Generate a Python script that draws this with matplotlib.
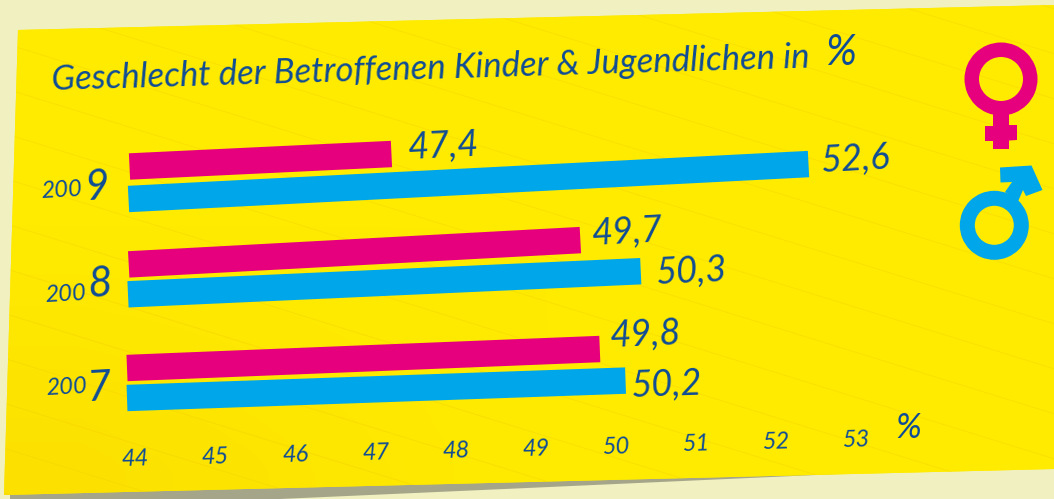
import numpy as np
import matplotlib
matplotlib.use("Agg")
import matplotlib.pyplot as plt
from matplotlib.patches import Polygon, Wedge
from matplotlib.transforms import Affine2D
from matplotlib.colors import LinearSegmentedColormap

# ---- data ----
years = [2009, 2008, 2007]
# printed labels
female_labels = ["47,4", "49,7", "49,8"]
male_labels = ["52,6", "50,3", "50,2"]
# bar ends as drawn in the reference, read against its 44-53 axis
female_drawn = [47.27, 49.64, 49.90]
male_drawn = [52.49, 50.40, 50.22]
axis_ticks = [44, 45, 46, 47, 48, 49, 50, 51, 52, 53]
title = "Geschlecht der Betroffenen Kinder & Jugendlichen in"

# ---- style / layout ----
W, H = 1054, 499
BG, PINK, BLUE, INK = "#F0F0C0", "#E6007E", "#00A6EA", "#0F4C96"
FONT = dict(family="Lato", style="italic", weight="normal")
PX_PER_UNIT = 80.2
female_center = [166.5, 264.4, 368.0]
male_center = [199.0, 294.3, 398.0]
female_left = [129.5, 128.7, 127.0]
male_left = [128.5, 128.0, 127.0]
female_tilt = [2.73, 3.08, 2.30]
male_tilt = [2.94, 2.58, 2.00]
female_nudge = [(51, 7), (46, 8), (45, 14)]
male_nudge = [(47, 4), (50, -1), (41, -4.5)]

fig = plt.figure(figsize=(W / 100, H / 100), dpi=100, facecolor=BG)
ax = fig.add_axes([0, 0, 1, 1])
ax.set_facecolor(BG)
ax.axis("off")
xlim = (44 - 129 / PX_PER_UNIT, 44 + (W - 129) / PX_PER_UNIT)
ax.set_xlim(*xlim)
ax.set_ylim(H, 0)
ax.set_autoscale_on(False)

px = Affine2D().scale(1, -1).translate(0, H)  # reference pixels -> display


def tilted(left, center, angle):
    """Data transform for one bar: shift to its start, tilt about it."""
    return ax.transData + Affine2D().translate(left - 129, 0).rotate_deg_around(left, H - center, angle)


# shadow and paper
ax.add_patch(Polygon([(10, 490), (860, 470), (860, 473), (527, 488), (10, 511)],
                     closed=True, fc="#A5A58A", ec="none", transform=px, zorder=1))
paper_pts = [(18, 30), (1054, 5), (1054, 469), (4, 495)]
paper = Polygon(paper_pts, closed=True, fc="#FFEB00", ec="none", transform=px, zorder=2)
ax.add_patch(paper)
cmap = LinearSegmentedColormap.from_list("paper", ["#FFEB00", "#FCE100"])
gx, gy = np.meshgrid(np.linspace(0, 1, 60), np.linspace(0, 1, 30))
shade = np.clip((gy - 0.45) / 0.5, 0, 1) * np.clip(1.15 - gx * 2.2, 0, 1)
im = ax.imshow(shade, cmap=cmap, vmin=0, vmax=1, extent=(0, W, H, 0), origin="upper",
               transform=px, aspect="auto", zorder=2.1, interpolation="bilinear")
im.set_clip_path(paper)
ax.set_xlim(*xlim)
ax.set_ylim(H, 0)

# faint ruled lines
for k in range(-8, 11):
    y0 = 48 + 45 * k
    ln, = ax.plot([0, W], [y0 - 6, y0 - 6 + 0.31 * W], color="#EDC400", lw=0.6, alpha=0.3,
                  transform=px, zorder=2.2)
    ln.set_clip_path(paper)

# bars
for i, year in enumerate(years):
    for lab, v, yy, xl, col, nudge, tilt in (
            (female_labels[i], female_drawn[i], female_center[i], female_left[i], PINK, female_nudge[i], female_tilt[i]),
            (male_labels[i], male_drawn[i], male_center[i], male_left[i], BLUE, male_nudge[i], male_tilt[i])):
        t = tilted(xl, yy, tilt)
        ax.barh(yy, v - 44, left=44, height=26.4, color=col, transform=t, zorder=3)
        ax.annotate(lab, xy=(v, yy), xycoords=t, xytext=nudge, textcoords="offset pixels",
                    ha="center", va="center", color=INK, fontsize=26, rotation=tilt,
                    zorder=4, **FONT)

# year labels: small "200" and a large last digit
year_small = [(62, 190), (66, 294), (67, 387)]
year_big = [(97, 187), (100, 284), (99, 388)]
for year, (sx, sy), (bx, by) in zip(years, year_small, year_big):
    ax.text(sx, sy, str(year)[:3], transform=px, ha="center", va="center", color=INK,
            fontsize=17, rotation=3, zorder=4, **FONT)
    ax.text(bx, by, str(year)[3], transform=px, ha="center", va="center", color=INK,
            fontsize=30, rotation=3, zorder=4, **FONT)

# axis tick labels along their own, flatter line
tick_t = ax.transData + Affine2D().translate(6, 0).rotate_deg_around(129, H - 459, 1.45)
for v in axis_ticks:
    ax.annotate(str(v), xy=(v, 459), xycoords=tick_t, ha="center", va="center", color=INK,
                fontsize=17, rotation=1.5, zorder=4, **FONT)
ax.text(908, 428, "%", transform=px, ha="center", va="center", color=INK, fontsize=25, zorder=4, **FONT)

# title
ax.text(52, 90, title, transform=px, ha="left", va="baseline", rotation=1.7,
        rotation_mode="anchor", color=INK, fontsize=25, zorder=4, **FONT)
ax.text(841, 53, "%", transform=px, ha="center", va="center", color=INK, fontsize=30, zorder=4, **FONT)

# gender symbols
ax.add_patch(Wedge((1001, 79), 36.5, 0, 360, width=14.5, fc=PINK, ec="none", transform=px, zorder=4))
ax.add_patch(Polygon([(993, 112), (1009, 112), (1009, 125), (1017, 125), (1017, 140), (1009, 140.5),
                      (1009, 149), (993, 149), (993, 141), (985, 141), (985, 126), (993, 126)],
                     closed=True, fc=PINK, ec="none", transform=px, zorder=4))
ax.add_patch(Wedge((994.3, 225.3), 34.5, 0, 360, width=15, fc=BLUE, ec="none", transform=px, zorder=4))
ax.add_patch(Polygon([(1000, 167.5), (1031.5, 165.5), (1042.5, 190), (1026, 196), (1023, 190), (1018, 201.5),
                      (1005, 192), (1012, 182), (1000.5, 182.5)],
                     closed=True, fc=BLUE, ec="none", transform=px, zorder=4))

fig.savefig("out.png", dpi=100, facecolor=BG)
